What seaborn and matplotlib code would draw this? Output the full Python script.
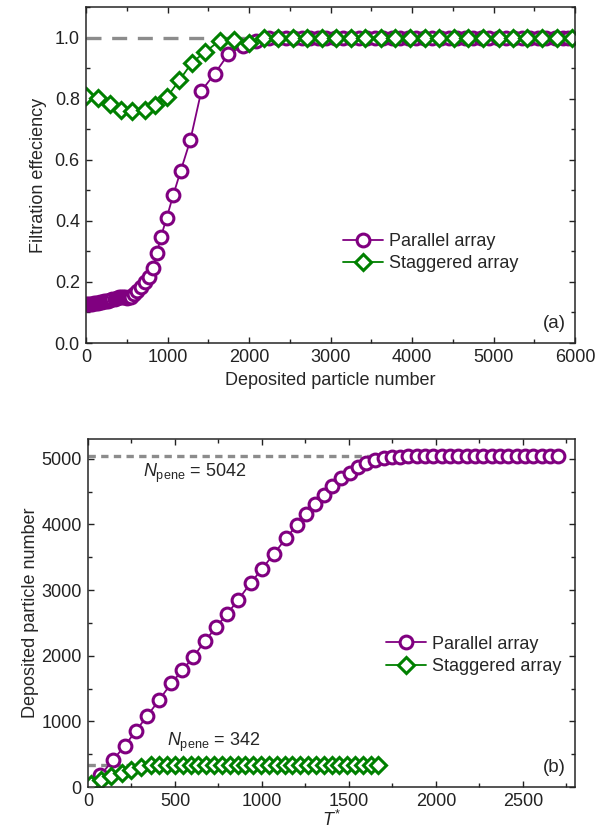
import numpy as np
import pandas as pd
import matplotlib
matplotlib.use("Agg")
import matplotlib.pyplot as plt
from matplotlib.ticker import MultipleLocator
import seaborn as sns

# ---------------------------------------------------------------------
# Data
# ---------------------------------------------------------------------
# (a) filtration efficiency vs deposited particle number
par_a_x = [0, 25, 50, 75, 100, 125, 150, 175, 200, 225, 250, 275, 300, 325,
           350, 375, 400, 425, 450, 475, 500, 525, 550, 583, 630, 680, 725,
           770, 820, 870, 920, 990, 1070, 1160, 1280, 1415, 1580, 1745, 1925,
           2090, 2250, 2350, 2450, 2550, 2650, 2750, 2850, 2950, 3050, 3150,
           3250, 3350, 3450, 3550, 3650, 3750, 3850, 3950, 4050, 4150, 4250,
           4350, 4450, 4550, 4650, 4750, 4850, 4950, 5050, 5150, 5250, 5350,
           5450, 5550, 5650, 5750, 5850, 5920]
par_a_y = [0.128, 0.127, 0.128, 0.129, 0.130, 0.131, 0.131, 0.133, 0.134,
           0.136, 0.137, 0.139, 0.141, 0.143, 0.145, 0.147, 0.149, 0.150,
           0.150, 0.149, 0.148, 0.149, 0.152, 0.160, 0.170, 0.183, 0.200,
           0.215, 0.247, 0.295, 0.348, 0.410, 0.484, 0.562, 0.664, 0.825,
           0.882, 0.945, 0.972, 0.990, 0.998, 1.0, 1.0, 1.0, 1.0, 1.0, 1.0,
           1.0, 1.0, 1.0, 1.0, 1.0, 1.0, 1.0, 1.0, 1.0, 1.0, 1.0, 1.0, 1.0,
           1.0, 1.0, 1.0, 1.0, 1.0, 1.0, 1.0, 1.0, 1.0, 1.0, 1.0, 1.0, 1.0,
           1.0, 1.0, 1.0, 1.0, 1.0]
stag_a_x = [0, 152, 296, 425, 570, 719, 850, 994, 1146, 1300, 1463, 1640,
            1820, 2000, 2180, 2360, 2536, 2716, 2891, 3071, 3251, 3427, 3616,
            3791, 3981, 4161, 4336, 4517, 4692, 4872, 5062, 5237, 5417, 5597,
            5782, 5962]
stag_a_y = [0.807, 0.803, 0.782, 0.762, 0.760, 0.763, 0.779, 0.805, 0.860,
            0.918, 0.953, 0.990, 0.992, 0.982, 1.0, 1.0, 1.0, 1.0, 1.0, 1.0,
            1.0, 1.0, 1.0, 1.0, 1.0, 1.0, 1.0, 1.0, 1.0, 1.0, 1.0, 1.0, 1.0,
            1.0, 1.0, 1.0]

# (b) deposited particle number vs T*
par_b_x = [71, 144, 211, 275, 342, 410, 479, 543, 606, 672, 736, 799, 863,
           936, 1000, 1067, 1138, 1200, 1253, 1304, 1355, 1404, 1455, 1504,
           1553, 1599, 1648, 1699, 1745, 1793, 1841, 1889, 1937, 1985, 2033,
           2081, 2129, 2177, 2225, 2273, 2321, 2369, 2417, 2465, 2513, 2561,
           2609, 2657, 2705]
par_b_y = [176, 411, 627, 853, 1088, 1329, 1580, 1780, 1981, 2222, 2432,
           2633, 2849, 3109, 3320, 3546, 3786, 3987, 4152, 4303, 4453, 4589,
           4704, 4789, 4880, 4940, 4980, 5005, 5020, 5030, 5036, 5040, 5042,
           5042, 5042, 5042, 5042, 5042, 5042, 5042, 5042, 5042, 5042, 5042,
           5042, 5042, 5042, 5042, 5042]
stag_b_x = [15, 75, 135, 195, 250, 305, 360, 410, 455, 500, 545, 590, 635,
            680, 725, 770, 815, 860, 905, 950, 995, 1040, 1085, 1130, 1175,
            1220, 1265, 1310, 1355, 1400, 1445, 1490, 1535, 1580, 1625, 1665]
stag_b_y = [40, 100, 160, 215, 265, 305, 328, 338, 341, 342, 342, 342, 342,
            342, 342, 342, 342, 342, 342, 342, 342, 342, 342, 342, 342, 342,
            342, 342, 342, 342, 342, 342, 342, 342, 342, 342]

N_PENE_PAR = 5042
N_PENE_STAG = 342

PURPLE = "#800080"
GREEN = "#008000"
GRAY = "#8c8c8c"
FS = 13

# ---------------------------------------------------------------------
sns.set_style("ticks")
plt.rcParams["font.family"] = ["Liberation Sans", "DejaVu Sans"]
plt.rcParams["mathtext.fontset"] = "custom"
plt.rcParams["mathtext.rm"] = "Liberation Sans"
plt.rcParams["mathtext.it"] = "Liberation Sans:italic"
plt.rcParams["font.size"] = FS
plt.rcParams["axes.linewidth"] = 1.1
for ax_name in ("xtick", "ytick"):
    plt.rcParams[f"{ax_name}.direction"] = "in"
    plt.rcParams[f"{ax_name}.major.size"] = 4.5
    plt.rcParams[f"{ax_name}.minor.size"] = 2.6
    plt.rcParams[f"{ax_name}.major.width"] = 1.0
    plt.rcParams[f"{ax_name}.minor.width"] = 1.0
    plt.rcParams[f"{ax_name}.labelsize"] = FS
    plt.rcParams[f"{ax_name}.major.pad"] = 4.5
plt.rcParams["xtick.top"] = True
plt.rcParams["ytick.right"] = True
plt.rcParams["xtick.color"] = "#222222"
plt.rcParams["ytick.color"] = "#222222"

W, H = 608, 834
fig = plt.figure(figsize=(W / 100, H / 100), dpi=100)
ax_a = fig.add_axes([86 / W, 1 - 343 / H, (575 - 86) / W, (343 - 7) / H])
ax_b = fig.add_axes([88 / W, 1 - 787 / H, (575 - 88) / W, (787 - 439) / H])

line_kw = dict(lw=1.3, markeredgewidth=2.2, markerfacecolor="white",
               estimator=None, sort=False)


def series(ax, x, y, color, marker, label, ms):
    df = pd.DataFrame({"x": x, "y": y})
    sns.lineplot(data=df, x="x", y="y", ax=ax, color=color, marker=marker,
                 markeredgecolor=color, markersize=ms, label=label, **line_kw)


# ---- panel (a) ----
ax_a.axhline(1.0, color=GRAY, lw=2.4, ls=(0, (4.5, 3.2)), zorder=1)
series(ax_a, par_a_x, par_a_y, PURPLE, "o", "Parallel array", 9.2)
series(ax_a, stag_a_x, stag_a_y, GREEN, "D", "Staggered array", 8.2)
ax_a.set_xlim(0, 6000)
ax_a.set_ylim(0, 1.1)
ax_a.xaxis.set_major_locator(MultipleLocator(1000))
ax_a.xaxis.set_minor_locator(MultipleLocator(500))
ax_a.yaxis.set_major_locator(MultipleLocator(0.2))
ax_a.yaxis.set_minor_locator(MultipleLocator(0.1))
ax_a.yaxis.set_major_formatter(plt.FormatStrFormatter("%.1f"))
ax_a.set_xlabel("Deposited particle number", labelpad=4)
ax_a.set_ylabel("Filtration effeciency")
ax_a.yaxis.set_label_coords(-0.080, 0.5)
ax_a.text(5750, 0.065, "(a)", ha="center", va="center", fontsize=FS + 0.5)
ax_a.legend(loc="center left", bbox_to_anchor=(0.526, 0.269), frameon=False,
            borderpad=0, borderaxespad=0, handlelength=2.2,
            handletextpad=0.35, labelspacing=0.3)

# ---- panel (b) ----
ax_b.plot([0, 1760], [N_PENE_PAR, N_PENE_PAR], color=GRAY, lw=2.4,
          ls=(0, (2.2, 1.6)), zorder=1)
ax_b.plot([0, 560], [N_PENE_STAG, N_PENE_STAG], color=GRAY, lw=2.4,
          ls=(0, (2.2, 1.6)), zorder=1)
series(ax_b, par_b_x, par_b_y, PURPLE, "o", "Parallel array", 9.2)
series(ax_b, stag_b_x, stag_b_y, GREEN, "D", "Staggered array", 8.2)
ax_b.set_xlim(0, 2800)
ax_b.set_ylim(0, 5300)
ax_b.xaxis.set_major_locator(MultipleLocator(500))
ax_b.xaxis.set_minor_locator(MultipleLocator(250))
ax_b.yaxis.set_major_locator(MultipleLocator(1000))
ax_b.yaxis.set_minor_locator(MultipleLocator(500))
ax_b.set_xlabel(r"$T^{*}$", labelpad=0)
ax_b.set_ylabel("Deposited particle number")
ax_b.yaxis.set_label_coords(-0.100, 0.5)
ax_b.text(317, 4773, r"$N_{\mathrm{pene}}$ = %d" % N_PENE_PAR,
          ha="left", va="center", fontsize=FS)
ax_b.text(453, 684, r"$N_{\mathrm{pene}}$ = %d" % N_PENE_STAG,
          ha="left", va="center", fontsize=FS)
ax_b.text(2683, 292, "(b)", ha="center", va="center", fontsize=FS + 0.5)
ax_b.legend(loc="center left", bbox_to_anchor=(0.6125, 0.3785),
            frameon=False, borderpad=0, borderaxespad=0, handlelength=2.2,
            handletextpad=0.35, labelspacing=0.3)

for ax in (ax_a, ax_b):
    for side in ("top", "right"):
        ax.spines[side].set_visible(True)

fig.savefig("out.png", dpi=100)
